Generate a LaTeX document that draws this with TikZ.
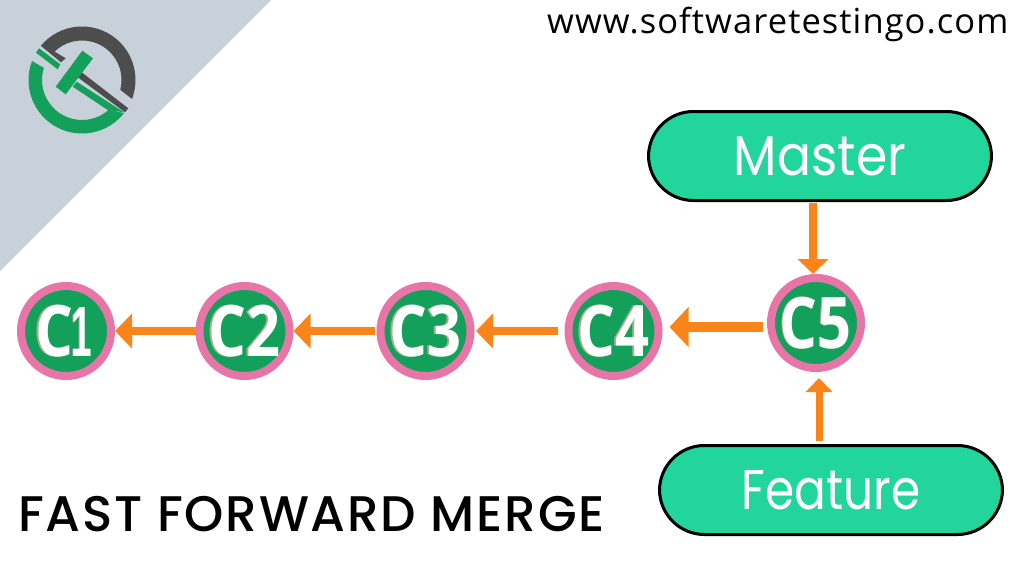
\documentclass[tikz,border=0pt]{standalone}
\usepackage{fontspec}
\setmainfont{Open Sans}
\newfontfamily\geo{Poppins}
\newfontfamily\titlef[LetterSpace=3.5]{Poppins Medium}
\newfontfamily\webf[LetterSpace=3.1]{Open Sans}
\newfontfamily\commitf{Open Sans Bold}
\newfontfamily\onef{Liberation Sans Bold}
\usetikzlibrary{arrows.meta}
\definecolor{bandgray}{HTML}{C8D0DA}
\definecolor{logodark}{HTML}{4D4D4D}
\definecolor{logogreen}{HTML}{12A05A}
\definecolor{ringpink}{HTML}{E875A8}
\definecolor{pillgreen}{HTML}{21D59B}
\definecolor{floworange}{HTML}{F9851A}
\definecolor{shadowtone}{HTML}{A9AD8F}
\newcommand\clab[1]{\makebox[0pt]{\hspace{-3.5pt}\color{shadowtone}\scalebox{.84}[1]{\commitf\fontsize{71}{71}\selectfont #1}}\makebox[0pt]{\color{white}\scalebox{.84}[1]{\commitf\fontsize{71}{71}\selectfont #1}}}
\newcommand\plab[2]{\textcolor{white}{\scalebox{#1}[1]{\geo\fontsize{56}{56}\selectfont #2}}}
\tikzset{
  commit/.style={circle,draw=ringpink,fill=logogreen,line width=8pt,minimum size=90pt,inner sep=0pt},
  branch/.style={draw=black,fill=pillgreen,line width=3pt,rounded corners=45pt,minimum width=343pt,minimum height=89pt,inner sep=0pt},
  flow/.style={draw=floworange,line width=8pt,-{Triangle[length=17pt,width=34pt]}},
  flowbig/.style={draw=floworange,line width=10pt,-{Triangle[length=19pt,width=39pt]}},
  flowdown/.style={draw=floworange,line width=8pt,-{Triangle[length=15pt,width=30pt]}},
  flowup/.style={draw=floworange,line width=7pt,-{Triangle[length=14pt,width=26pt]}},
  logoD/.style={fill=logodark},
  logoG/.style={fill=logogreen}
}
\begin{document}
\begin{tikzpicture}[x=1pt,y=-1pt]
\useasboundingbox (0,0) rectangle (1024,576);
\fill[white] (0,0) rectangle (1024,576);
\fill[bandgray] (0,0) -- (271,0) -- (0,271) -- cycle;
% logo
\fill[logoD] (82,80) ++(219.7:53.5) arc[start angle=219.7,end angle=380.8,radius=53.5]
  -- (120.26,89.8) arc[start angle=374.4,end angle=226,radius=39.5] -- (65.7,58.3) -- (61,62.3) -- cycle;
\fill[logoD] (81.7,72.3) -- (128.3,108.3) -- (125,112.3) -- (77,76.7) -- cycle;
\fill[logoG] (82,80) ++(200.8:53.5) arc[start angle=200.8,end angle=38.2,radius=53.5]
  -- (108.76,109.7) arc[start angle=48,end angle=197.5,radius=40] -- cycle;
\fill[logoG] (76.7,81.7) -- (124,112.3) -- (107.7,110) -- (72.7,86.7) -- cycle;
\fill[logoG] (36,52.7) -- (39,48.3) -- (60.3,64.3) -- (57.7,69.3) -- cycle;
\fill[logoG] (82.3,50.7) -- (93,58.3) -- (65.7,94.3) -- (55.7,86.7) -- cycle;
% commits
\node[commit] (c1) at (66,331) {\clab{C\kern-2pt\scalebox{.62}[1]{\onef 1}\kern5pt}};
\node[commit] (c2) at (244.5,331) {\clab{C2}};
\node[commit] (c3) at (425.5,331) {\clab{C3}};
\node[commit] (c4) at (613.5,331) {\clab{C4}};
\node[commit] (c5) at (816,323) {\clab{C5}};
% branches
\node[branch] (master) at (820,156) {\plab{.9}{Master}};
\node[branch] (feature) at (831,490) {\plab{.84}{Feature}};
% connectors
\draw[flow] (c2) -- (c1);
\draw[flow,shorten <=1.5pt] (c3) -- (c2);
\draw[flow,shorten <=6.5pt,shorten >=1.5pt] (c4) -- (c3);
\draw[flowbig] ([shift={(-4,4)}]c5.west) -- ([shift={(7,-4)}]c4.east);
\draw[flowdown] ([shift={(-7,1)}]master.south) -- ([shift={(-3,0)}]c5.north);
\draw[flowup] ([shift={(-12,-3)}]feature.north) -- ([shift={(3,6)}]c5.south);
% texts
\node[anchor=base west,inner sep=0pt] (web) at (547,33) {\webf\fontsize{34.5}{34.5}\selectfont www.softwaretestingo.com};
\node[anchor=base west,inner sep=0pt] (title) at (18,531) {\titlef\fontsize{50}{50}\selectfont FAST FORWARD MERGE};
\end{tikzpicture}
\end{document}
